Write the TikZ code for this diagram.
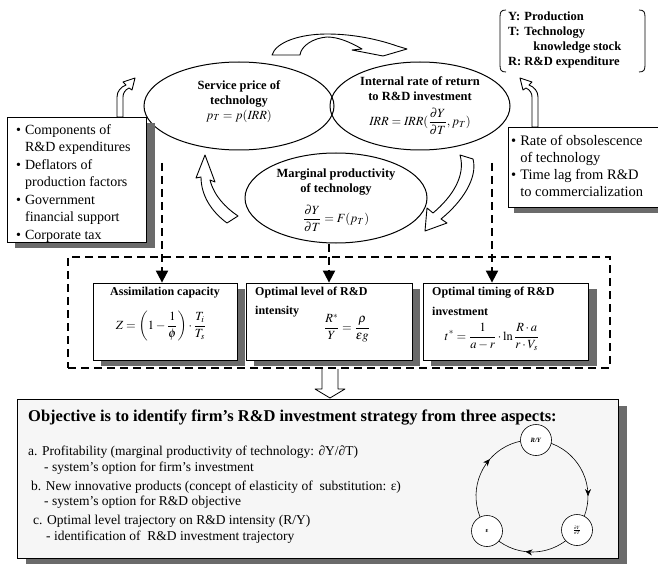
\documentclass[tikz,border=0pt]{standalone}
\usepackage{mathptmx}
\usepackage{fontspec}
\setmainfont{Liberation Serif}
\usetikzlibrary{shapes.geometric,decorations.markings,arrows.meta}
\begin{document}
\begin{tikzpicture}[x=1pt,y=-1pt,
  ell/.style={draw, ellipse, line width=1pt, inner sep=0pt},
  bx/.style={draw, line width=0.8pt, fill=white, inner sep=0pt},
  shd/.style={fill=black!58},
  dsh/.style={line width=2pt, dash pattern=on 8pt off 5pt},
  dsharr/.style={dsh, -{Triangle[length=12pt,width=12pt]}},
  blk/.style={draw, line width=0.9pt, fill=white, line join=round},
  ttl/.style={font=\fontsize{12.5}{15}\selectfont\bfseries, align=center, inner sep=0pt},
  hd/.style={font=\fontsize{12}{14}\selectfont\bfseries, inner sep=0pt, anchor=west},
  lst/.style={font=\fontsize{14}{17.5}\selectfont, inner sep=0pt, anchor=north west},
  body/.style={font=\fontsize{13.5}{16}\selectfont, inner sep=0pt, anchor=west},
  frm/.style={font=\fontsize{12.5}{15}\selectfont, inner sep=0pt},
  cyc/.style={line width=0.6pt},
  sm/.style={draw, circle, fill=white, line width=0.6pt, minimum size=31, inner sep=0pt, font=\fontsize{6.5}{7}\selectfont\bfseries}
]
\useasboundingbox (0,0) rectangle (658,564);
\fill[white] (0,0) rectangle (658,564);

% definitions box (brackets)
\draw[line width=0.8pt] (506,10) .. controls (501,10) and (500,12) .. (500,17) -- (500,65) .. controls (500,70) and (501,72) .. (506,72);
\draw[line width=0.8pt] (639,10) .. controls (644,10) and (645,12) .. (645,17) -- (645,65) .. controls (645,70) and (644,72) .. (639,72);
\node[font=\fontsize{12.5}{15}\selectfont\bfseries, inner sep=0pt, anchor=west] (defs) at (508,40)
  {\begin{tabular}{@{}l@{\hspace{3pt}}l@{}}Y:& Production\\ T:& Technology\\ & \hspace{9pt}knowledge stock\\ R:& R\&D expenditure\end{tabular}};

% ellipses
\node[ell, minimum width=190, minimum height=88] (e1) at (239,106) {};
\node[ell, minimum width=180, minimum height=88] (e2) at (420,106) {};
\node[ell, minimum width=182, minimum height=90] (e3) at (336,198) {};

\node[ttl] (t1) at (239,94) {Service price of\\technology};
\node[frm] (f1) at (239,116) {$p_T = p(\mathit{IRR})$};
\node[ttl] (t2) at (420,89) {Internal rate of return\\to R\&D investment};
\node[frm] (f2) at (420,121) {$\mathit{IRR} = \mathit{IRR}(\displaystyle\frac{\partial Y}{\partial T}, p_T)$};
\node[ttl] (t3) at (336,182) {Marginal productivity\\of technology};
\node[frm] (f3) at (336,218) {$\displaystyle\frac{\partial Y}{\partial T} = F(p_T)$};

% curved block arrows
\draw[blk] (272,55) .. controls (276,42) and (300,34) .. (327,34) .. controls (355,34) and (380,40) .. (397,46) -- (407,49) -- (383,56) -- (352,50) -- (362,49) .. controls (350,42) and (338,37) .. (327,37) .. controls (313,38) and (301,46) .. (300,55) -- cycle;
\draw[blk] (205,155) -- (215,182) -- (210,180) .. controls (214,196) and (226,208) .. (238,216) -- (227,223) .. controls (212,212) and (201,196) .. (201,177) -- (196,178) -- cycle;
\draw[blk] (460,155) -- (473,159) .. controls (478,178) and (462,202) .. (441,219) -- (447,223) -- (425,231) -- (427,208) -- (433,213) .. controls (452,197) and (466,176) .. (460,155) -- cycle;

% left input box
\fill[shd] (15,123) rectangle (155,248);
\node[bx, minimum width=139, minimum height=125] (lbox) at (76.5,179.5) {};
\node[lst] (ltx) at (16,122) {\begin{tabular}{@{}l@{\hspace{4pt}}l@{}}\textbullet& Components of\\ & R\&D expenditures\\ \textbullet& Deflators of\\ & production factors\\ \textbullet& Government\\ & financial support\\ \textbullet& Corporate tax\end{tabular}};
\draw[blk] (117,117) -- (117,97) .. controls (117,91) and (121,87) .. (126,85) -- (123,82) -- (135,78) -- (132,90) -- (129,88) .. controls (125,90) and (123,93) .. (123,97) -- (123,117) -- cycle;

% right input box
\fill[shd] (514,133) rectangle (661,213);
\node[bx, minimum width=150, minimum height=80] (rbox) at (583,167) {};
\node[lst, font=\fontsize{14.5}{17}\selectfont] (rtx) at (511,133) {\begin{tabular}{@{}l@{\hspace{4pt}}l@{}}\textbullet& Rate of obsolescence\\ & of technology\\ \textbullet& Time lag from R\&D\\ & to commercialization\end{tabular}};
\draw[blk] (538,127) -- (538,97) .. controls (538,91) and (534,87) .. (529,85) -- (532,82) -- (520,78) -- (523,90) -- (526,88) .. controls (530,90) and (532,93) .. (532,97) -- (532,127) -- cycle;

% dashed group
\node[draw, dsh, minimum width=542, minimum height=111, inner sep=0pt] (grp) at (339,312.5) {};
\fill[shd] (101,289) rectangle (245,366);
\fill[shd] (254,289) rectangle (420,366);
\fill[shd] (431,289) rectangle (597,366);
\node[bx, minimum width=144, minimum height=77] (b1) at (165,321.5) {};
\node[bx, minimum width=166, minimum height=77] (b2) at (329,321.5) {};
\node[bx, minimum width=165, minimum height=77] (b3) at (505.5,321.5) {};

\node[hd, anchor=center] (h1) at (165,293) {Assimilation capacity};
\node[frm] (g1) at (161,326) {$\displaystyle Z=\left(1-\frac{1}{\phi}\right)\cdot\frac{T_i}{T_s}$};
\node[hd] (h2) at (255,293) {Optimal level of R\&D};
\node[hd] (h2b) at (255,312) {intensity};
\node[frm] (g2) at (347,328) {$\displaystyle\frac{R^{*}}{Y}=\frac{\rho}{\varepsilon g}$};
\node[hd] (h3) at (432,293) {Optimal timing of R\&D};
\node[hd] (h3b) at (432,311) {investment};
\node[frm] (g3) at (492,337) {$\displaystyle t^{*}=\frac{1}{a-r}\cdot\ln\frac{R\cdot a}{r\cdot V_s}$};

% dashed connectors
\coordinate (dl) at (162,163);
\coordinate (dr) at (492,163);
\draw[dsharr] (dl) -- (dl |- b1.north);
\draw[dsharr] (b2.north |- e3.south) -- (b2.north);
\draw[dsharr] (dr) -- (dr |- b3.north);

% hollow arrow down
\fill[white] (322,369) -- (322,389) -- (315,389) -- (330,398) -- (345,389) -- (338,389) -- (338,369) -- cycle;
\draw[line width=0.8pt, line join=round] (322,369) -- (322,389) -- (315,389) -- (330,398) -- (345,389) -- (338,389) -- (338,369);

% objective box
\fill[shd] (26,406) rectangle (627,566);
\node[bx, fill=gray!7, minimum width=601, minimum height=159] (obj) at (317.5,478.5) {};
\node[inner sep=0pt, anchor=west, font=\fontsize{16.5}{19}\selectfont\bfseries] (otl) at (28,418) {Objective is to identify firm's R\&D investment strategy from three aspects:};
\node[body] (a1) at (28,452) {a. Profitability (marginal productivity of technology: ∂Y/∂T)};
\node[body] (a2) at (44,468) {- system's option for firm's investment};
\node[body] (a3) at (31,487) {b. New innovative products (concept of elasticity of \ substitution: ε)};
\node[body] (a4) at (44,502) {- system's option for R\&D objective};
\node[body] (a5) at (33,521) {c. Optimal level trajectory on R\&D intensity (R/Y)};
\node[body] (a6) at (46,537) {- identification of \ R\&D investment trajectory};

% cycle
\coordinate (cc) at (532,496);
\draw[cyc, postaction={decorate}, decoration={markings, mark=at position 0.7 with {\arrow{Stealth[length=7pt,width=6pt]}}}] (cc) ++(-86:56) arc[start angle=-86, end angle=37, radius=56];
\draw[cyc, postaction={decorate}, decoration={markings, mark=at position 0.57 with {\arrow{Stealth[length=7pt,width=6pt]}}}] (cc) ++(37:56) arc[start angle=37, end angle=142, radius=56];
\draw[cyc, postaction={decorate}, decoration={markings, mark=at position 0.6 with {\arrow{Stealth[length=7pt,width=6pt]}}}] (cc) ++(142:56) arc[start angle=142, end angle=274, radius=56];
\node[sm] (cR) at (536,440) {\textit{R/Y}};
\node[sm] (cE) at (487,531) {ε};
\node[sm] (cD) at (577,530) {$\frac{\partial Y}{\partial T}$};
\end{tikzpicture}
\end{document}
